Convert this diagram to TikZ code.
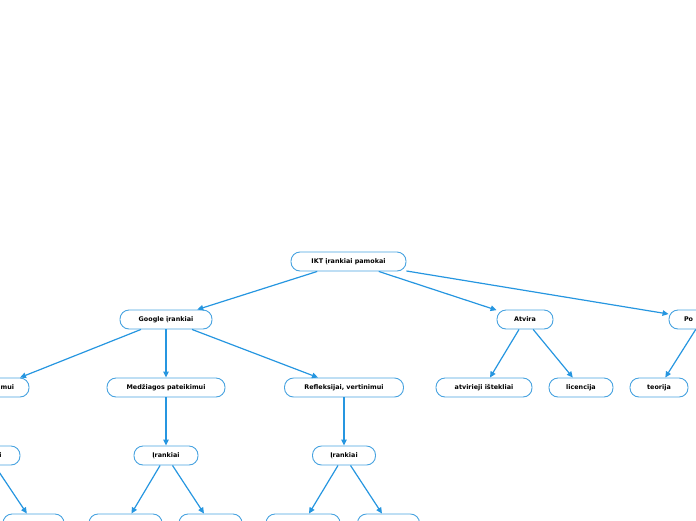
\documentclass[tikz,border=0pt]{standalone}
\usepackage{fontspec}
\setmainfont{DejaVu Sans}
\usetikzlibrary{positioning,arrows.meta}
\definecolor{mapblue}{RGB}{38,150,224}
\definecolor{mapborder}{RGB}{72,163,224}

\begin{document}
\begin{tikzpicture}[
    x=1pt, y=-1pt,
    topic/.style={
        draw=mapborder,
        line width=0.9pt,
        fill=white,
        rounded corners=9pt,
        minimum height=19pt,
        inner xsep=0pt,
        inner ysep=0pt,
        font=\fontsize{6.4}{7}\selectfont\bfseries
    },
    link/.style={draw=mapblue, line width=1.2pt, -{Triangle[length=6pt,width=5.5pt]}}
]
\useasboundingbox (0,0) rectangle (696,520);

% root and first level
\node[topic, minimum width=115pt] (root) at (348.5,261.5) {IKT įrankiai pamokai};
\node[topic, minimum width=92pt] (google) at (166,319.5) {Google įrankiai};
\node[topic, minimum width=56pt] (atvira) at (525,319.5) {Atvira};
\node[topic, minimum width=66pt, text width=36pt, align=left] (po) at (702,319.5) {Po};

% second level
\node[topic, minimum width=68pt, text width=38pt, align=right] (mui) at (-5,387.5) {imui};
\node[topic, minimum width=118pt] (medz) at (166,387.5) {Medžiagos pateikimui};
\node[topic, minimum width=119pt] (refl) at (344,387.5) {Refleksijai, vertinimui};
\node[topic, minimum width=96pt] (istekliai) at (484,387.5) {atvirieji ištekliai};
\node[topic, minimum width=64pt] (licencija) at (581,387.5) {licencija};
\node[topic, minimum width=58pt] (teorija) at (659,387.5) {teorija};

% third level
\node[topic, minimum width=64pt] (irank0) at (-12,455.5) {Įrankiai};
\node[topic, minimum width=64pt] (irank1) at (166,455.5) {Įrankiai};
\node[topic, minimum width=63pt] (irank2) at (344,455.5) {Įrankiai};

% fourth level (cut by the page edge)
\node[topic, minimum width=61pt] (leaf0) at (33.5,523.5) {};
\node[topic, minimum width=73pt] (leaf1a) at (125.5,523.5) {};
\node[topic, minimum width=63pt] (leaf1b) at (210.5,523.5) {};
\node[topic, minimum width=74pt] (leaf2a) at (303,523.5) {};
\node[topic, minimum width=62pt] (leaf2b) at (388.5,523.5) {};

% connectors
\draw[link] (root) -- (google);
\draw[link] (root) -- (atvira);
\draw[link] (root) -- (po);
\draw[link] (google) -- (mui);
\draw[link] (google) -- (medz);
\draw[link] (google) -- (refl);
\draw[link] (atvira) -- (istekliai);
\draw[link] (atvira) -- (licencija);
\draw[link] (po) -- (teorija);
\draw[link] (medz) -- (irank1);
\draw[link] (refl) -- (irank2);
\draw[link] (irank0) -- (leaf0);
\draw[link] (irank1) -- (leaf1a);
\draw[link] (irank1) -- (leaf1b);
\draw[link] (irank2) -- (leaf2a);
\draw[link] (irank2) -- (leaf2b);

\end{tikzpicture}
\end{document}
